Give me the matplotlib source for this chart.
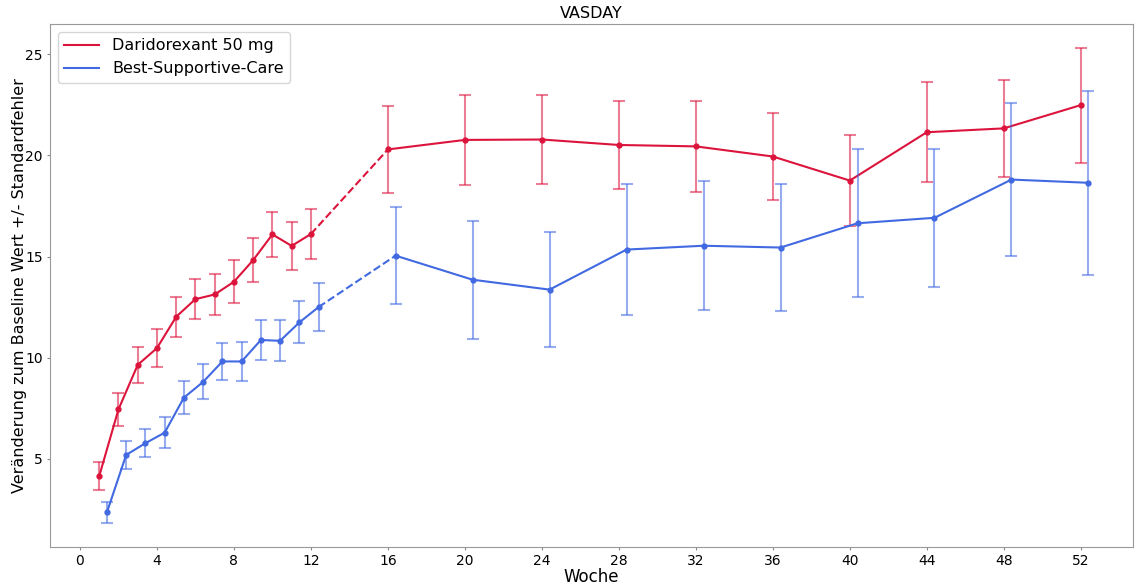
import numpy as np
import matplotlib
matplotlib.use("Agg")
import matplotlib.pyplot as plt
from matplotlib.lines import Line2D

# Wochen
weeks = [1, 2, 3, 4, 5, 6, 7, 8, 9, 10, 11, 12, 16, 20, 24, 28, 32, 36, 40, 44, 48, 52]
blue_shift = 0.4

# Daridorexant 50 mg
dari_mean = [4.15, 7.45, 9.65, 10.48, 12.03, 12.9, 13.13, 13.76, 14.83, 16.1, 15.53, 16.12,
             20.3, 20.77, 20.79, 20.52, 20.45, 19.95, 18.76, 21.15, 21.34, 22.49]
dari_se = [0.68, 0.8, 0.9, 0.92, 1.0, 1.0, 1.02, 1.07, 1.1, 1.1, 1.2, 1.25,
           2.17, 2.23, 2.2, 2.18, 2.23, 2.16, 2.23, 2.48, 2.38, 2.84]

# Best-Supportive-Care
bsc_mean = [2.36, 5.2, 5.78, 6.3, 8.03, 8.81, 9.82, 9.82, 10.88, 10.84, 11.75, 12.51,
            15.05, 13.86, 13.37, 15.35, 15.54, 15.45, 16.65, 16.92, 18.81, 18.65]
bsc_se = [0.53, 0.69, 0.68, 0.76, 0.81, 0.87, 0.91, 0.95, 0.99, 1.02, 1.04, 1.19,
          2.39, 2.92, 2.84, 3.22, 3.2, 3.15, 3.66, 3.42, 3.76, 4.55]

red = "crimson"
blue = "royalblue"

fig = plt.figure(figsize=(11.35, 5.85), dpi=100)
ax = fig.add_axes([0.044, 0.065, 0.954, 0.894])

x_red = np.array(weeks, dtype=float)
x_blue = x_red + blue_shift

handles = []
for x, m, s, c, lab in [(x_red, dari_mean, dari_se, red, "Daridorexant 50 mg"),
                        (x_blue, bsc_mean, bsc_se, blue, "Best-Supportive-Care")]:
    m = np.array(m)
    ax.errorbar(x, m, yerr=s, fmt="none", ecolor=c, alpha=0.55, capsize=4, elinewidth=1.5, capthick=1.5)
    ax.plot(x[:12], m[:12], color=c, lw=1.5, marker="o", ms=3.5)
    ax.plot(x[11:13], m[11:13], color=c, lw=1.5, ls="--")
    ax.plot(x[12:], m[12:], color=c, lw=1.5, marker="o", ms=3.5)
    handles.append(Line2D([], [], color=c, lw=1.5, label=lab))

ax.set_xlim(-1.56, 54.7)
ax.set_ylim(0.65, 26.5)
ax.set_xticks([0, 4, 8, 12, 16, 20, 24, 28, 32, 36, 40, 44, 48, 52])
ax.set_yticks([5, 10, 15, 20, 25])
ax.tick_params(labelsize=10, length=2, pad=3, color="#888888")
ax.set_title("VASDAY", fontsize=11.5, pad=4)
ax.set_xlabel("Woche", fontsize=12, labelpad=0)
ax.set_ylabel("Veränderung zum Baseline Wert +/- Standardfehler", fontsize=11.5)
ax.yaxis.set_label_coords(-0.021, 0.5)
for sp in ax.spines.values():
    sp.set_color("#999999")
ax.legend(handles=handles, loc="upper left", fontsize=11.5, handlelength=2.2)

fig.savefig("out.png", dpi=100)
